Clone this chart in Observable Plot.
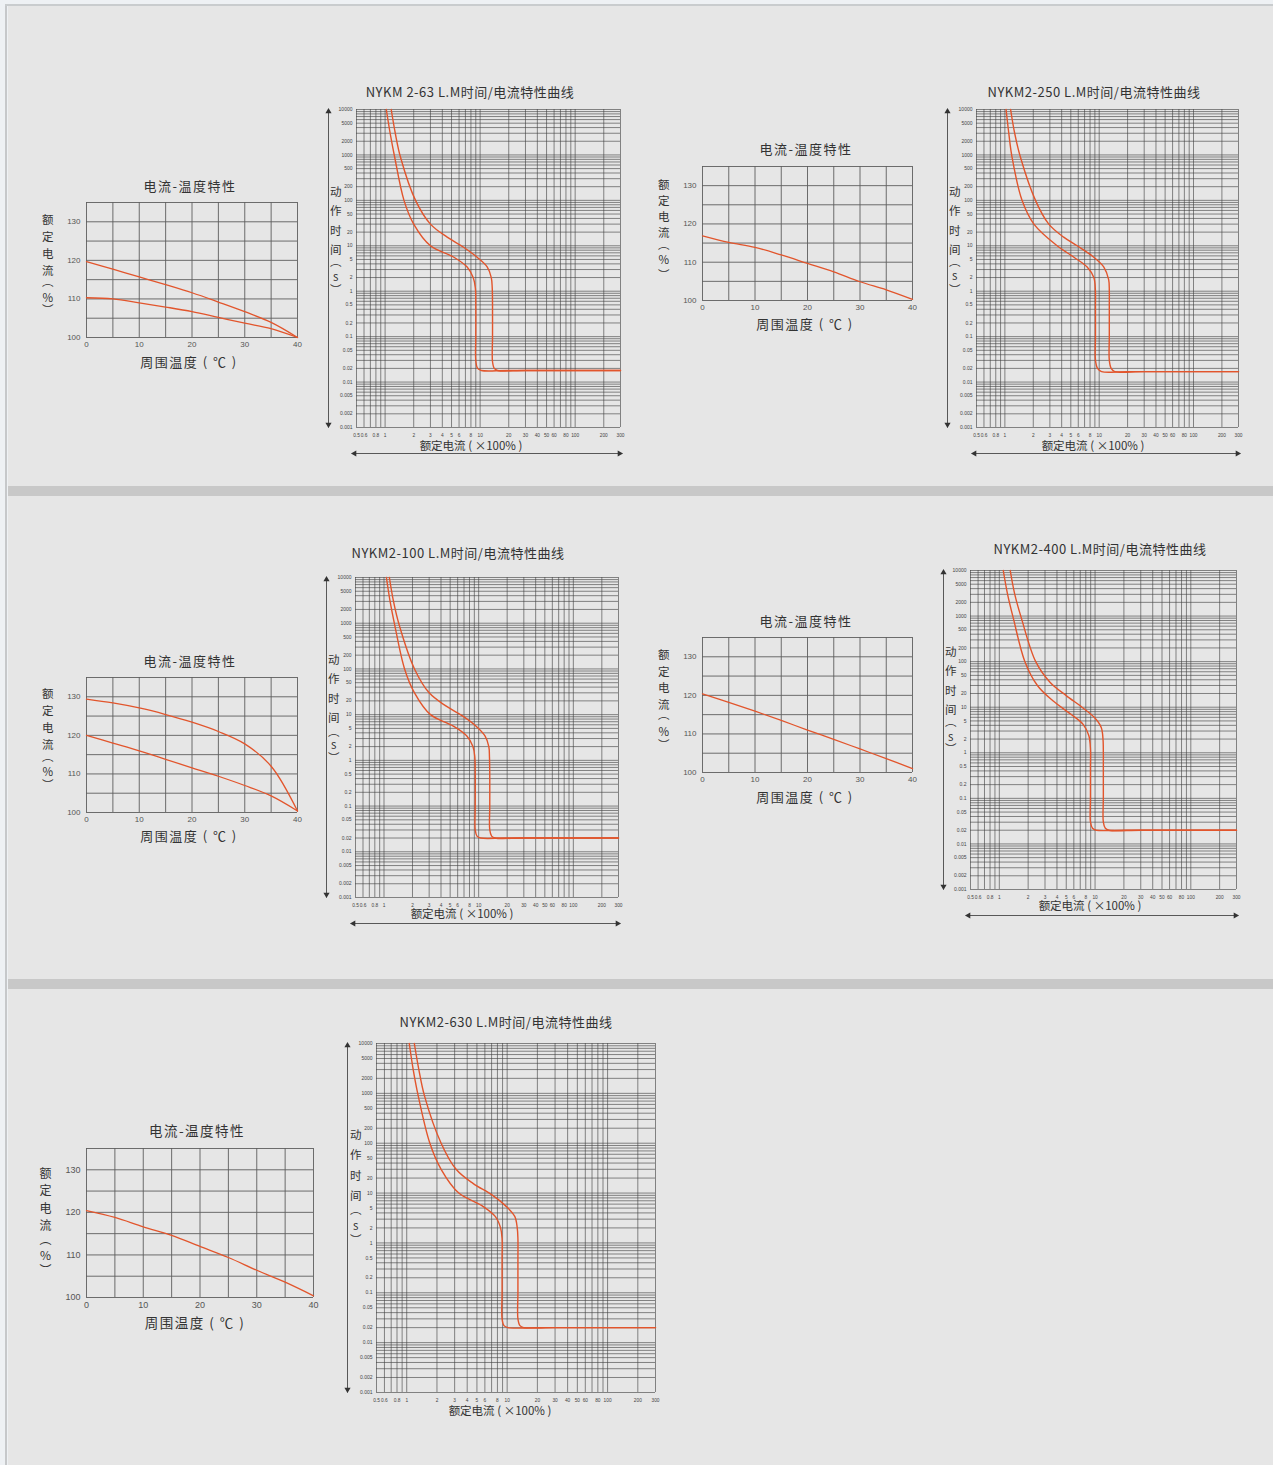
<!DOCTYPE html>
<html><head><meta charset="utf-8">
<script src="https://cdn.jsdelivr.net/npm/d3@7"></script>
<script src="https://cdn.jsdelivr.net/npm/@observablehq/plot@0.6"></script>
<style>
html,body{margin:0;padding:0;background:#eef1f4;}
#page{position:relative;width:1273px;height:1465px;overflow:hidden;font-family:"Noto Sans CJK SC","Noto Sans",sans-serif;color:#333;}
.bg{position:absolute;left:8px;top:6px;right:0;bottom:0;background:#e6e6e6;}
.lborder{position:absolute;left:5px;top:4px;width:2px;bottom:0;background:#c6c8ca;}
.tborder{position:absolute;left:5px;top:4px;right:0;height:2px;background:#c9ccce;}
.sep{position:absolute;left:8px;right:0;height:10px;background:#c8c8c8;}
.abs{position:absolute;white-space:nowrap;line-height:1;}
.ctr{transform:translate(-50%,-50%);}
.vc{writing-mode:vertical-rl;text-orientation:upright;transform:translate(-50%,-50%);}
.plot{position:absolute;}
</style>
</head><body><div id="page">
<div class="bg"></div><div class="lborder"></div><div class="tborder"></div>
<div class="sep" style="top:486px"></div>
<div class="sep" style="top:979px"></div>
</div>
<script>
// ---------- tick labels / domains ----------
const tempTicksX = [0, 10, 20, 30, 40];
const tempTicksY = [100, 110, 120, 130];
const tempGridX = [0, 5, 10, 15, 20, 25, 30, 35, 40];
const tempGridY = [100, 105, 110, 115, 120, 125, 130, 135];
const tempDomainX = [0, 40];
const tempDomainY = [100, 135];

const tcTicksX = [0.5, 0.6, 0.8, 1, 2, 3, 4, 5, 6, 8, 10, 20, 30, 40, 50, 60, 80, 100, 200, 300];
const tcTicksY = [10000, 5000, 2000, 1000, 500, 200, 100, 50, 20, 10, 5, 2, 1, 0.5, 0.2, 0.1, 0.05, 0.02, 0.01, 0.005, 0.002, 0.001];
const tcDomainX = [0.5, 300];
const tcDomainY = [0.001, 10000];

// ---------- current-temperature series [°C, %] ----------
const temp63Upper = [[0,119.7],[5,117.7],[10,115.7],[15,113.7],[20,111.6],[25,109.2],[30,106.7],[35,103.9],[40,100]];
const temp63Lower = [[0,110.3],[5,110],[10,109],[15,107.9],[20,106.7],[25,105.2],[30,103.7],[35,102.3],[40,100]];
const temp250 = [[0,116.9],[5,115.2],[10,113.9],[15,111.9],[20,109.7],[25,107.5],[30,104.9],[35,102.8],[40,100.3]];
const temp100Upper = [[0,129.4],[5,128.4],[10,127.1],[15,125.4],[20,123.4],[25,121],[30,117.8],[35,112],[40,100.4]];
const temp100Lower = [[0,120],[5,118],[10,116],[15,113.8],[20,111.6],[25,109.4],[30,107],[35,104.3],[40,100.4]];
const temp400 = [[0,120.4],[5,118.2],[10,115.9],[15,113.5],[20,111],[25,108.6],[30,106.1],[35,103.6],[40,101]];
const temp630 = [[0,120.4],[5,118.8],[10,116.6],[15,114.6],[20,112],[25,109.4],[30,106.4],[35,103.6],[40,100.4]];

// ---------- time-current series [x In, seconds] ----------
const tc63Lower = [[1.03,10000],[1.13,3000],[1.26,900],[1.58,100],[2.0,30],[3.0,10],[5.3,5.6],[7.3,3.4],[8.45,2.0],[8.9,1.2],[9.0,0.5],[9.0,0.1],[9.0,0.03],[9.4,0.02],[10.3,0.018],[20,0.018],[300,0.018]];
const tc63Upper = [[1.16,10000],[1.28,3000],[1.45,900],[2.09,100],[3.0,30],[4.5,15.5],[6.7,9.3],[9.3,5.6],[11.9,3.4],[13.1,2.0],[13.4,1.2],[13.5,0.5],[13.5,0.1],[13.5,0.028],[14.1,0.02],[15.3,0.018],[30,0.018],[300,0.018]];
const tc250Lower = [[1.03,10000],[1.1,3000],[1.19,900],[1.52,100],[2.03,30],[3.58,10],[5.4,5.6],[7.45,3.4],[8.77,2.0],[9.1,1.1],[9.13,0.5],[9.13,0.1],[9.13,0.03],[9.6,0.02],[10.6,0.017],[20,0.017],[300,0.017]];
const tc250Upper = [[1.15,10000],[1.27,3000],[1.46,900],[2.11,100],[2.92,30],[4.2,15.5],[5.84,10],[8.77,5.6],[11.2,3.4],[12.6,1.8],[12.8,1.0],[12.8,0.5],[12.8,0.1],[12.8,0.03],[13.4,0.02],[14.6,0.017],[30,0.017],[300,0.017]];
const tc100Lower = [[1.06,10000],[1.16,3000],[1.3,900],[1.65,100],[2.1,30],[3.1,10],[5.4,5.6],[7.5,3.4],[8.7,2.0],[9.1,1.2],[9.2,0.5],[9.2,0.1],[9.2,0.03],[9.6,0.022],[10.5,0.02],[20,0.02],[300,0.02]];
const tc100Upper = [[1.14,10000],[1.26,3000],[1.45,900],[2.1,100],[3.0,30],[4.5,15.5],[6.8,9.3],[9.4,5.6],[11.7,3.4],[12.8,2.0],[13.0,1.2],[13.1,0.5],[13.1,0.1],[13.1,0.03],[13.7,0.022],[14.9,0.02],[30,0.02],[300,0.02]];
const tc400Lower = [[1.1,10000],[1.22,3000],[1.4,900],[1.85,100],[2.5,30],[3.6,14],[5.6,7],[7.5,4.2],[8.6,2.4],[8.95,1.2],[8.95,0.5],[8.95,0.1],[8.95,0.03],[9.4,0.022],[10.3,0.02],[20,0.02],[300,0.02]];
const tc400Upper = [[1.3,10000],[1.45,3000],[1.7,900],[2.4,100],[3.4,35],[5.0,18],[7.3,10],[9.8,6],[11.6,3.6],[12.1,2.0],[12.2,1.0],[12.2,0.5],[12.2,0.1],[12.2,0.03],[12.8,0.022],[14.0,0.02],[30,0.02],[300,0.02]];
const tc630Lower = [[1.06,10000],[1.16,3000],[1.3,900],[1.7,100],[2.2,30],[3.3,10],[5.6,5.6],[7.6,3.4],[8.6,2.0],[8.9,1.2],[8.9,0.5],[8.9,0.1],[8.9,0.03],[9.3,0.022],[10.2,0.02],[20,0.02],[300,0.02]];
const tc630Upper = [[1.19,10000],[1.32,3000],[1.5,900],[2.2,100],[3.1,30],[4.6,15.5],[7.0,9.3],[9.6,5.6],[11.9,3.4],[12.6,2.0],[12.8,1.2],[12.8,0.5],[12.8,0.1],[12.8,0.03],[13.4,0.022],[14.6,0.02],[30,0.02],[300,0.02]];

const curveColor = "#e2552c";
const page = document.getElementById("page");

function addText(txt, x, y, size, ls) {
  const d = document.createElement("div");
  d.className = "abs ctr";
  d.textContent = txt;
  d.style.left = x + "px"; d.style.top = y + "px"; d.style.fontSize = size + "px";
  if (ls) d.style.letterSpacing = ls + "px";
  page.appendChild(d);
  return d;
}
// vertical label: 4 main characters at pitch p from s, then "（x）" at offsets o from the 4th char
function addVLabel(txt, x, s, p, o, size) {
  const chars = Array.from(txt);
  const last = s + 3 * p;
  const ys = [s, s + p, s + 2 * p, last,
              last + o[0] - 0.25 * size, last + o[1], last + o[2] + 0.25 * size];
  chars.forEach((ch, i) => {
    const d = document.createElement("div");
    d.className = "abs vc";
    d.textContent = ch;
    d.style.left = x + "px"; d.style.top = ys[i] + "px"; d.style.fontSize = size + "px";
    page.appendChild(d);
  });
}
function addPlot(svg, left, top) {
  svg.classList.add("plot");
  svg.style.left = left + "px"; svg.style.top = top + "px";
  page.appendChild(svg);
}

function tempChart(c) {
  const [x0, y0, x1, y1] = c.box;
  const mL = 32, mR = 8, mT = 4, mB = 18;
  const svg = Plot.plot({
    width: x1 - x0 + mL + mR, height: y1 - y0 + mT + mB,
    marginLeft: mL, marginRight: mR, marginTop: mT, marginBottom: mB,
    style: {background: "transparent", fontSize: c.fs + "px", fontFamily: "'Liberation Sans', Arial, sans-serif", color: "#555"},
    x: {domain: tempDomainX, ticks: tempTicksX, tickSize: 0, tickPadding: 4, label: null},
    y: {domain: tempDomainY, ticks: tempTicksY, tickSize: 0, tickPadding: 6, label: null},
    marks: [
      Plot.ruleX(tempGridX, {stroke: "#5e5e5e", strokeWidth: 0.9}),
      Plot.ruleY(tempGridY, {stroke: "#5e5e5e", strokeWidth: 0.9}),
      ...c.series.map(s => Plot.line(s, {x: d => d[0], y: d => d[1], stroke: curveColor, strokeWidth: 1.3, curve: "catmull-rom"}))
    ]
  });
  addPlot(svg, x0 - mL, y0 - mT);
  addText("电流-温度特性", c.title[0], c.title[1], c.tfs, 1.5);
  addText("周围温度 ( ℃ )", c.xlab[0], c.xlab[1], c.tfs, 1.5);
  addVLabel("额定电流（%）", c.ylab[0], c.ylab[1], c.ylab[2], c.po, c.yfs);
}

function tcChart(c) {
  const [x0, y0, x1, y1] = c.box;
  const mL = 36, mR = 8, mT = 6, mB = 32;
  const xGrid = d3.scaleLog().domain(tcDomainX).ticks();
  const yGrid = d3.scaleLog().domain(tcDomainY).ticks();
  const ink = "#333";
  const arrowMarks = [
    Plot.link([0], {x1: tcDomainX[0], x2: tcDomainX[0], y1: tcDomainY[0], y2: tcDomainY[1], dx: c.ax, stroke: ink, strokeWidth: 0.8}),
    Plot.dot([0], {x: tcDomainX[0], y: tcDomainY[1], dx: c.ax, dy: 2, symbol: "triangle", r: 2.3, fill: ink, rotate: 0}),
    Plot.dot([0], {x: tcDomainX[0], y: tcDomainY[0], dx: c.ax, dy: -3, symbol: "triangle", r: 2.3, fill: ink, rotate: 180})
  ];
  if (c.hArrow) arrowMarks.push(
    Plot.link([0], {x1: tcDomainX[0], x2: tcDomainX[1], y1: tcDomainY[0], y2: tcDomainY[0], dx: -2, dy: 26, stroke: ink, strokeWidth: 0.8}),
    Plot.dot([0], {x: tcDomainX[0], y: tcDomainY[0], dx: -2, dy: 26, symbol: "triangle", r: 2.3, fill: ink, rotate: -90}),
    Plot.dot([0], {x: tcDomainX[1], y: tcDomainY[0], dx: -1, dy: 26, symbol: "triangle", r: 2.3, fill: ink, rotate: 90})
  );
  const svg = Plot.plot({
    width: x1 - x0 + mL + mR, height: y1 - y0 + mT + mB,
    marginLeft: mL, marginRight: mR, marginTop: mT, marginBottom: mB,
    style: {background: "transparent", fontFamily: "'Liberation Sans Narrow', 'Liberation Sans', Arial, sans-serif", color: "#444"},
    x: {type: "log", domain: tcDomainX, axis: null},
    y: {type: "log", domain: tcDomainY, axis: null},
    marks: [
      Plot.ruleX(xGrid, {stroke: "#444", strokeWidth: 0.7, strokeOpacity: 0.9}),
      Plot.ruleY(yGrid, {stroke: "#444", strokeWidth: 0.7, strokeOpacity: 0.9}),
      Plot.text(tcTicksY, {x: tcDomainX[0], y: d => d, text: d => String(d), dx: -4, textAnchor: "end", fontSize: 5, fill: "#444"}),
      Plot.text(tcTicksX, {x: d => d, y: tcDomainY[0], text: d => String(d), dy: 8, fontSize: 4.8, fill: "#444"}),
      Plot.line(c.lower, {x: d => d[0], y: d => d[1], stroke: curveColor, strokeWidth: 1.4, curve: "catmull-rom"}),
      Plot.line(c.upper, {x: d => d[0], y: d => d[1], stroke: curveColor, strokeWidth: 1.4, curve: "catmull-rom"}),
      ...arrowMarks
    ]
  });
  addPlot(svg, x0 - mL, y0 - mT);
  addText(c.name, c.title[0], c.title[1], 13, 0.5);
  addText("额定电流 ( ×100% )", c.xlab[0], c.xlab[1], 11.5);
  addVLabel("动作时间（s）", c.ylab[0], c.ylab[1], c.ylab[2], c.po, 11.5);
}

tempChart({box: [86, 202, 297, 337], series: [temp63Upper, temp63Lower], fs: 8, tfs: 13, yfs: 11.5, title: [190, 185], xlab: [189, 361], ylab: [47, 220, 17], po: [14, 27, 36]});
tempChart({box: [702, 166, 912, 300], series: [temp250], fs: 8, tfs: 13, yfs: 11.5, title: [806, 148], xlab: [805, 323], ylab: [663, 185, 16], po: [15, 27, 39]});
tempChart({box: [86, 677, 297, 812], series: [temp100Upper, temp100Lower], fs: 8, tfs: 13, yfs: 11.5, title: [190, 660], xlab: [189, 835], ylab: [47, 694, 17], po: [15, 27, 37]});
tempChart({box: [702, 637, 912, 772], series: [temp400], fs: 8, tfs: 13, yfs: 11.5, title: [806, 620], xlab: [805, 796], ylab: [663, 655, 16.5], po: [13.5, 27.5, 37.5]});
tempChart({box: [86, 1148, 313, 1297], series: [temp630], fs: 9, tfs: 13.5, yfs: 12, title: [197, 1131], xlab: [195, 1323], ylab: [45, 1173, 17.3], po: [17, 30, 42]});

tcChart({name: "NYKM 2-63 L.M时间/电流特性曲线", box: [356, 109, 620, 427], lower: tc63Lower, upper: tc63Upper, ax: -28, hArrow: true, title: [470, 91], xlab: [471, 446], ylab: [335, 192, 19.4], po: [15, 27, 37]});
tcChart({name: "NYKM2-250 L.M时间/电流特性曲线", box: [976, 109, 1238, 427], lower: tc250Lower, upper: tc250Upper, ax: -29, hArrow: true, title: [1094, 91], xlab: [1093, 446], ylab: [954, 192, 19.4], po: [15, 26, 37]});
tcChart({name: "NYKM2-100 L.M时间/电流特性曲线", box: [355, 577, 618, 897], lower: tc100Lower, upper: tc100Upper, ax: -29, hArrow: true, title: [458, 552], xlab: [462, 914], ylab: [333, 660, 19.4], po: [17, 27, 37]});
tcChart({name: "NYKM2-400 L.M时间/电流特性曲线", box: [970, 570, 1236, 889], lower: tc400Lower, upper: tc400Upper, ax: -27, hArrow: true, title: [1100, 548], xlab: [1090, 906], ylab: [950, 652, 19.4], po: [15, 27, 36]});
tcChart({name: "NYKM2-630 L.M时间/电流特性曲线", box: [376, 1043, 655, 1392], lower: tc630Lower, upper: tc630Upper, ax: -29, hArrow: false, title: [506, 1021], xlab: [500, 1411], ylab: [355, 1135, 20.3], po: [17, 30, 41]});
</script>
</body></html>
